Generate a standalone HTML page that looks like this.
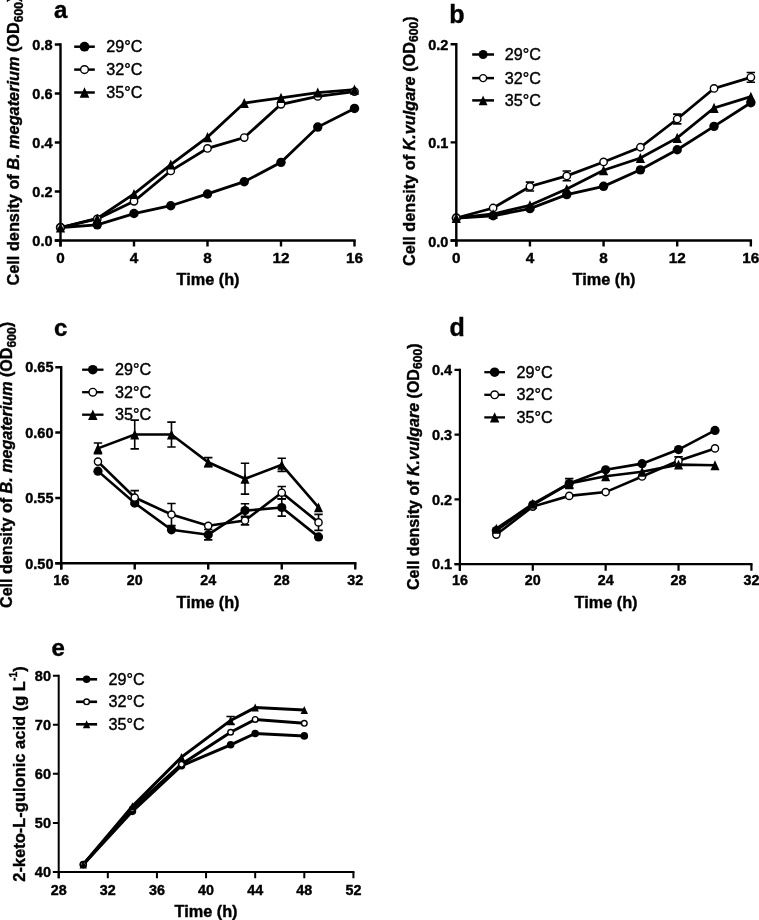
<!DOCTYPE html>
<html><head><meta charset="utf-8"><style>
html,body{margin:0;padding:0;background:#fff;width:759px;height:920px;overflow:hidden}
svg{display:block;will-change:transform}
text{font-family:"Liberation Sans", sans-serif;fill:#000;stroke:#000;stroke-width:0.4px}
</style></head><body>
<svg width="759" height="920" viewBox="0 0 759 920">
<rect width="759" height="920" fill="#fff"/>
<path d="M60.5 43.3V246.6M54.8 240.5H355.7" stroke="#000" stroke-width="2.4" fill="none"/>
<path d="M54.8 240.5H60.5M54.8 191.5H60.5M54.8 142.5H60.5M54.8 93.5H60.5M54.8 44.5H60.5M60.5 240.5V246.6M134 240.5V246.6M207.5 240.5V246.6M281 240.5V246.6M354.5 240.5V246.6" stroke="#000" stroke-width="2.4" fill="none"/>
<text x="52.5" y="245.7" font-size="14.5" font-weight="bold" font-style="normal" text-anchor="end" >0.0</text>
<text x="52.5" y="196.7" font-size="14.5" font-weight="bold" font-style="normal" text-anchor="end" >0.2</text>
<text x="52.5" y="147.7" font-size="14.5" font-weight="bold" font-style="normal" text-anchor="end" >0.4</text>
<text x="52.5" y="98.7" font-size="14.5" font-weight="bold" font-style="normal" text-anchor="end" >0.6</text>
<text x="52.5" y="49.7" font-size="14.5" font-weight="bold" font-style="normal" text-anchor="end" >0.8</text>
<text x="60.5" y="263.2" font-size="15.3" font-weight="bold" font-style="normal" text-anchor="middle" >0</text>
<text x="134" y="263.2" font-size="15.3" font-weight="bold" font-style="normal" text-anchor="middle" >4</text>
<text x="207.5" y="263.2" font-size="15.3" font-weight="bold" font-style="normal" text-anchor="middle" >8</text>
<text x="281" y="263.2" font-size="15.3" font-weight="bold" font-style="normal" text-anchor="middle" >12</text>
<text x="354.5" y="263.2" font-size="15.3" font-weight="bold" font-style="normal" text-anchor="middle" >16</text>
<text x="208" y="285" font-size="16.3" font-weight="bold" font-style="normal" text-anchor="middle" >Time (h)</text>
<text transform="translate(19.2 285.5) rotate(-90)" x="0" y="0" font-size="16.3" font-weight="bold">Cell density of <tspan font-style="italic">B. megaterium</tspan> (OD<tspan font-size="12.2" dy="3.6">600</tspan><tspan dy="-3.6">)</tspan></text>
<text x="54" y="18.3" font-size="24" font-weight="bold" font-style="normal" text-anchor="start" >a</text>
<path d="M60.5 227.51 L97.25 224.82 L134 213.55 L170.75 205.71 L207.5 193.95 L244.25 181.7 L281 162.34 L317.75 127.06 L354.5 108.44" stroke="#000" stroke-width="2.8" fill="none" stroke-linejoin="miter"/>
<path d="M60.5 227.51 L97.25 218.94 L134 201.3 L170.75 170.92 L207.5 148.38 L244.25 137.6 L281 104.28 L317.75 96.44 L354.5 91.54" stroke="#000" stroke-width="2.8" fill="none" stroke-linejoin="miter"/>
<path d="M60.5 227.51 L97.25 218.45 L134 193.95 L170.75 164.55 L207.5 137.11 L244.25 103.05 L281 97.91 L317.75 92.52 L354.5 89.58" stroke="#000" stroke-width="2.8" fill="none" stroke-linejoin="miter"/>
<circle cx="60.5" cy="227.51" r="4.7" fill="#000"/>
<circle cx="97.25" cy="224.82" r="4.7" fill="#000"/>
<circle cx="134" cy="213.55" r="4.7" fill="#000"/>
<circle cx="170.75" cy="205.71" r="4.7" fill="#000"/>
<circle cx="207.5" cy="193.95" r="4.7" fill="#000"/>
<circle cx="244.25" cy="181.7" r="4.7" fill="#000"/>
<circle cx="281" cy="162.34" r="4.7" fill="#000"/>
<circle cx="317.75" cy="127.06" r="4.7" fill="#000"/>
<circle cx="354.5" cy="108.44" r="4.7" fill="#000"/>
<circle cx="60.5" cy="227.51" r="3.7" fill="#fff" stroke="#000" stroke-width="1.4"/>
<circle cx="97.25" cy="218.94" r="3.7" fill="#fff" stroke="#000" stroke-width="1.4"/>
<circle cx="134" cy="201.3" r="3.7" fill="#fff" stroke="#000" stroke-width="1.4"/>
<circle cx="170.75" cy="170.92" r="3.7" fill="#fff" stroke="#000" stroke-width="1.4"/>
<circle cx="207.5" cy="148.38" r="3.7" fill="#fff" stroke="#000" stroke-width="1.4"/>
<circle cx="244.25" cy="137.6" r="3.7" fill="#fff" stroke="#000" stroke-width="1.4"/>
<circle cx="281" cy="104.28" r="3.7" fill="#fff" stroke="#000" stroke-width="1.4"/>
<circle cx="317.75" cy="96.44" r="3.7" fill="#fff" stroke="#000" stroke-width="1.4"/>
<circle cx="354.5" cy="91.54" r="3.7" fill="#fff" stroke="#000" stroke-width="1.4"/>
<path d="M60.5 222.45L65.12 232.57L55.88 232.57Z" fill="#000"/>
<path d="M97.25 213.39L101.87 223.51L92.63 223.51Z" fill="#000"/>
<path d="M134 188.89L138.62 199.01L129.38 199.01Z" fill="#000"/>
<path d="M170.75 159.49L175.37 169.61L166.13 169.61Z" fill="#000"/>
<path d="M207.5 132.05L212.12 142.17L202.88 142.17Z" fill="#000"/>
<path d="M244.25 97.99L248.87 108.11L239.63 108.11Z" fill="#000"/>
<path d="M281 92.85L285.62 102.97L276.38 102.97Z" fill="#000"/>
<path d="M317.75 87.46L322.37 97.58L313.13 97.58Z" fill="#000"/>
<path d="M354.5 84.52L359.12 94.64L349.88 94.64Z" fill="#000"/>
<path d="M74.2 46.7H94.8" stroke="#000" stroke-width="2.5"/>
<circle cx="84.5" cy="46.7" r="4.9" fill="#000"/>
<text x="106.3" y="52.1" font-size="16.2" font-weight="normal" font-style="normal" text-anchor="start" >29°C</text>
<path d="M74.2 69.6H94.8" stroke="#000" stroke-width="2.5"/>
<circle cx="84.5" cy="69.6" r="3.9" fill="#fff" stroke="#000" stroke-width="1.4"/>
<text x="106.3" y="75" font-size="16.2" font-weight="normal" font-style="normal" text-anchor="start" >32°C</text>
<path d="M74.2 92.5H94.8" stroke="#000" stroke-width="2.5"/>
<path d="M84.5 87.21L89.33 97.79L79.67 97.79Z" fill="#000"/>
<text x="106.3" y="97.9" font-size="16.2" font-weight="normal" font-style="normal" text-anchor="start" >35°C</text>
<path d="M456.3 43V246.6M450.6 240.5H752.06" stroke="#000" stroke-width="2.4" fill="none"/>
<path d="M450.6 240.5H456.3M450.6 142.35H456.3M450.6 44.2H456.3M456.3 240.5V246.6M529.94 240.5V246.6M603.58 240.5V246.6M677.22 240.5V246.6M750.86 240.5V246.6" stroke="#000" stroke-width="2.4" fill="none"/>
<text x="448.3" y="246.5" font-size="14.5" font-weight="bold" font-style="normal" text-anchor="end" >0.0</text>
<text x="448.3" y="148.35" font-size="14.5" font-weight="bold" font-style="normal" text-anchor="end" >0.1</text>
<text x="448.3" y="50.2" font-size="14.5" font-weight="bold" font-style="normal" text-anchor="end" >0.2</text>
<text x="456.3" y="263.2" font-size="15.3" font-weight="bold" font-style="normal" text-anchor="middle" >0</text>
<text x="529.94" y="263.2" font-size="15.3" font-weight="bold" font-style="normal" text-anchor="middle" >4</text>
<text x="603.58" y="263.2" font-size="15.3" font-weight="bold" font-style="normal" text-anchor="middle" >8</text>
<text x="677.22" y="263.2" font-size="15.3" font-weight="bold" font-style="normal" text-anchor="middle" >12</text>
<text x="750.86" y="263.2" font-size="15.3" font-weight="bold" font-style="normal" text-anchor="middle" >16</text>
<text x="604" y="285" font-size="16.3" font-weight="bold" font-style="normal" text-anchor="middle" >Time (h)</text>
<text transform="translate(414.5 266) rotate(-90)" x="0" y="0" font-size="16.25" font-weight="bold">Cell density of <tspan font-style="italic">K.vulgare</tspan> (OD<tspan font-size="12.2" dy="3.6">600</tspan><tspan dy="-3.6">)</tspan></text>
<text x="449.2" y="23.3" font-size="25" font-weight="bold" font-style="normal" text-anchor="start" >b</text>
<path d="M456.3 218.02 L493.12 215.77 L529.94 208.6 L566.76 194.66 L603.58 186.32 L640.4 169.83 L677.22 149.71 L714.04 126.35 L750.86 102.8" stroke="#000" stroke-width="2.8" fill="none" stroke-linejoin="miter"/>
<path d="M456.3 218.02 L493.12 208.01 L529.94 186.52 L566.76 175.92 L603.58 161.98 L640.4 147.26 L677.22 118.99 L714.04 88.47 L750.86 77.37" stroke="#000" stroke-width="2.8" fill="none" stroke-linejoin="miter"/>
<path d="M456.3 218.02 L493.12 214 L529.94 205.26 L566.76 188.97 L603.58 170.22 L640.4 158.05 L677.22 137.93 L714.04 107.9 L750.86 96.71" stroke="#000" stroke-width="2.8" fill="none" stroke-linejoin="miter"/>
<path d="M529.94 182.1V190.93M525.74 182.1H534.14M525.74 190.93H534.14" stroke="#000" stroke-width="1.6" fill="none"/>
<path d="M566.76 171.01V180.82M562.56 171.01H570.96M562.56 180.82H570.96" stroke="#000" stroke-width="1.6" fill="none"/>
<path d="M677.22 114.08V123.9M673.02 114.08H681.42M673.02 123.9H681.42" stroke="#000" stroke-width="1.6" fill="none"/>
<path d="M750.86 72.57V82.18M746.66 72.57H755.06M746.66 82.18H755.06" stroke="#000" stroke-width="1.6" fill="none"/>
<circle cx="456.3" cy="218.02" r="4.7" fill="#000"/>
<circle cx="493.12" cy="215.77" r="4.7" fill="#000"/>
<circle cx="529.94" cy="208.6" r="4.7" fill="#000"/>
<circle cx="566.76" cy="194.66" r="4.7" fill="#000"/>
<circle cx="603.58" cy="186.32" r="4.7" fill="#000"/>
<circle cx="640.4" cy="169.83" r="4.7" fill="#000"/>
<circle cx="677.22" cy="149.71" r="4.7" fill="#000"/>
<circle cx="714.04" cy="126.35" r="4.7" fill="#000"/>
<circle cx="750.86" cy="102.8" r="4.7" fill="#000"/>
<circle cx="456.3" cy="218.02" r="3.7" fill="#fff" stroke="#000" stroke-width="1.4"/>
<circle cx="493.12" cy="208.01" r="3.7" fill="#fff" stroke="#000" stroke-width="1.4"/>
<circle cx="529.94" cy="186.52" r="3.7" fill="#fff" stroke="#000" stroke-width="1.4"/>
<circle cx="566.76" cy="175.92" r="3.7" fill="#fff" stroke="#000" stroke-width="1.4"/>
<circle cx="603.58" cy="161.98" r="3.7" fill="#fff" stroke="#000" stroke-width="1.4"/>
<circle cx="640.4" cy="147.26" r="3.7" fill="#fff" stroke="#000" stroke-width="1.4"/>
<circle cx="677.22" cy="118.99" r="3.7" fill="#fff" stroke="#000" stroke-width="1.4"/>
<circle cx="714.04" cy="88.47" r="3.7" fill="#fff" stroke="#000" stroke-width="1.4"/>
<circle cx="750.86" cy="77.37" r="3.7" fill="#fff" stroke="#000" stroke-width="1.4"/>
<path d="M456.3 212.96L460.92 223.08L451.68 223.08Z" fill="#000"/>
<path d="M493.12 208.94L497.74 219.06L488.5 219.06Z" fill="#000"/>
<path d="M529.94 200.2L534.56 210.32L525.32 210.32Z" fill="#000"/>
<path d="M566.76 183.91L571.38 194.03L562.14 194.03Z" fill="#000"/>
<path d="M603.58 165.16L608.2 175.28L598.96 175.28Z" fill="#000"/>
<path d="M640.4 152.99L645.02 163.11L635.78 163.11Z" fill="#000"/>
<path d="M677.22 132.87L681.84 142.99L672.6 142.99Z" fill="#000"/>
<path d="M714.04 102.84L718.66 112.96L709.42 112.96Z" fill="#000"/>
<path d="M750.86 91.65L755.48 101.77L746.24 101.77Z" fill="#000"/>
<path d="M472.2 54.5H494" stroke="#000" stroke-width="2.5"/>
<circle cx="483.1" cy="54.5" r="4.5" fill="#000"/>
<text x="504.8" y="59.9" font-size="16.2" font-weight="normal" font-style="normal" text-anchor="start" >29°C</text>
<path d="M472.2 78.1H494" stroke="#000" stroke-width="2.5"/>
<circle cx="483.1" cy="78.1" r="3.5" fill="#fff" stroke="#000" stroke-width="1.4"/>
<text x="504.8" y="83.5" font-size="16.2" font-weight="normal" font-style="normal" text-anchor="start" >32°C</text>
<path d="M472.2 100.4H494" stroke="#000" stroke-width="2.5"/>
<path d="M483.1 95.57L487.51 105.23L478.69 105.23Z" fill="#000"/>
<text x="504.8" y="105.8" font-size="16.2" font-weight="normal" font-style="normal" text-anchor="start" >35°C</text>
<path d="M61.2 366V569.4M55.3 563.3H356.48" stroke="#000" stroke-width="2.4" fill="none"/>
<path d="M55.3 563.3H61.2M55.3 497.93H61.2M55.3 432.57H61.2M55.3 367.2H61.2M61.2 563.3V569.4M134.72 563.3V569.4M208.24 563.3V569.4M281.76 563.3V569.4M355.28 563.3V569.4" stroke="#000" stroke-width="2.4" fill="none"/>
<text x="53.5" y="568.5" font-size="14.5" font-weight="bold" font-style="normal" text-anchor="end" >0.50</text>
<text x="53.5" y="503.13" font-size="14.5" font-weight="bold" font-style="normal" text-anchor="end" >0.55</text>
<text x="53.5" y="437.77" font-size="14.5" font-weight="bold" font-style="normal" text-anchor="end" >0.60</text>
<text x="53.5" y="372.4" font-size="14.5" font-weight="bold" font-style="normal" text-anchor="end" >0.65</text>
<text x="61.2" y="584.9" font-size="14.3" font-weight="bold" font-style="normal" text-anchor="middle" >16</text>
<text x="134.72" y="584.9" font-size="14.3" font-weight="bold" font-style="normal" text-anchor="middle" >20</text>
<text x="208.24" y="584.9" font-size="14.3" font-weight="bold" font-style="normal" text-anchor="middle" >24</text>
<text x="281.76" y="584.9" font-size="14.3" font-weight="bold" font-style="normal" text-anchor="middle" >28</text>
<text x="355.28" y="584.9" font-size="14.3" font-weight="bold" font-style="normal" text-anchor="middle" >32</text>
<text x="208" y="607.5" font-size="16.3" font-weight="bold" font-style="normal" text-anchor="middle" >Time (h)</text>
<text transform="translate(12.2 608) rotate(-90)" x="0" y="0" font-size="16.12" font-weight="bold">Cell density of <tspan font-style="italic">B. megaterium</tspan> (OD<tspan font-size="12.2" dy="3.6">600</tspan><tspan dy="-3.6">)</tspan></text>
<text x="54" y="335.7" font-size="24" font-weight="bold" font-style="normal" text-anchor="start" >c</text>
<path d="M97.96 471.14 L134.72 503.03 L171.48 529.83 L208.24 534.67 L245 510.62 L281.76 507.48 L318.52 536.89" stroke="#000" stroke-width="2.6" fill="none" stroke-linejoin="miter"/>
<path d="M97.96 461.59 L134.72 497.54 L171.48 514.54 L208.24 525.78 L245 520.55 L281.76 492.71 L318.52 522.38" stroke="#000" stroke-width="2.6" fill="none" stroke-linejoin="miter"/>
<path d="M97.96 448.39 L134.72 434.53 L171.48 434.53 L208.24 462.25 L245 478.72 L281.76 464.86 L318.52 507.35" stroke="#000" stroke-width="2.6" fill="none" stroke-linejoin="miter"/>
<path d="M208.24 529.44V539.9M204.04 529.44H212.44M204.04 539.9H212.44" stroke="#000" stroke-width="1.6" fill="none"/>
<path d="M245 503.82V517.41M240.8 503.82H249.2M240.8 517.41H249.2" stroke="#000" stroke-width="1.6" fill="none"/>
<path d="M281.76 498.85V516.11M277.56 498.85H285.96M277.56 516.11H285.96" stroke="#000" stroke-width="1.6" fill="none"/>
<path d="M134.72 490.61V504.47M130.52 490.61H138.92M130.52 504.47H138.92" stroke="#000" stroke-width="1.6" fill="none"/>
<path d="M171.48 503.43V525.65M167.28 503.43H175.68M167.28 525.65H175.68" stroke="#000" stroke-width="1.6" fill="none"/>
<path d="M245 516.24V524.87M240.8 516.24H249.2M240.8 524.87H249.2" stroke="#000" stroke-width="1.6" fill="none"/>
<path d="M281.76 486.56V498.85M277.56 486.56H285.96M277.56 498.85H285.96" stroke="#000" stroke-width="1.6" fill="none"/>
<path d="M318.52 514.41V530.36M314.32 514.41H322.72M314.32 530.36H322.72" stroke="#000" stroke-width="1.6" fill="none"/>
<path d="M97.96 443.03V453.75M93.76 443.03H102.16M93.76 453.75H102.16" stroke="#000" stroke-width="1.6" fill="none"/>
<path d="M134.72 420.15V448.91M130.52 420.15H138.92M130.52 448.91H138.92" stroke="#000" stroke-width="1.6" fill="none"/>
<path d="M171.48 422.11V446.95M167.28 422.11H175.68M167.28 446.95H175.68" stroke="#000" stroke-width="1.6" fill="none"/>
<path d="M208.24 457.67V466.82M204.04 457.67H212.44M204.04 466.82H212.44" stroke="#000" stroke-width="1.6" fill="none"/>
<path d="M245 463.29V494.14M240.8 463.29H249.2M240.8 494.14H249.2" stroke="#000" stroke-width="1.6" fill="none"/>
<path d="M281.76 458.32V471.4M277.56 458.32H285.96M277.56 471.4H285.96" stroke="#000" stroke-width="1.6" fill="none"/>
<circle cx="97.96" cy="471.14" r="4.6" fill="#000"/>
<circle cx="134.72" cy="503.03" r="4.6" fill="#000"/>
<circle cx="171.48" cy="529.83" r="4.6" fill="#000"/>
<circle cx="208.24" cy="534.67" r="4.6" fill="#000"/>
<circle cx="245" cy="510.62" r="4.6" fill="#000"/>
<circle cx="281.76" cy="507.48" r="4.6" fill="#000"/>
<circle cx="318.52" cy="536.89" r="4.6" fill="#000"/>
<circle cx="97.96" cy="461.59" r="3.6" fill="#fff" stroke="#000" stroke-width="1.4"/>
<circle cx="134.72" cy="497.54" r="3.6" fill="#fff" stroke="#000" stroke-width="1.4"/>
<circle cx="171.48" cy="514.54" r="3.6" fill="#fff" stroke="#000" stroke-width="1.4"/>
<circle cx="208.24" cy="525.78" r="3.6" fill="#fff" stroke="#000" stroke-width="1.4"/>
<circle cx="245" cy="520.55" r="3.6" fill="#fff" stroke="#000" stroke-width="1.4"/>
<circle cx="281.76" cy="492.71" r="3.6" fill="#fff" stroke="#000" stroke-width="1.4"/>
<circle cx="318.52" cy="522.38" r="3.6" fill="#fff" stroke="#000" stroke-width="1.4"/>
<path d="M97.96 443.44L102.48 453.33L93.45 453.33Z" fill="#000"/>
<path d="M134.72 429.59L139.23 439.48L130.21 439.48Z" fill="#000"/>
<path d="M171.48 429.59L176 439.48L166.97 439.48Z" fill="#000"/>
<path d="M208.24 457.3L212.75 467.19L203.73 467.19Z" fill="#000"/>
<path d="M245 473.77L249.51 483.66L240.49 483.66Z" fill="#000"/>
<path d="M281.76 459.92L286.27 469.81L277.25 469.81Z" fill="#000"/>
<path d="M318.52 502.4L323.03 512.29L314 512.29Z" fill="#000"/>
<path d="M82.1 369.7H103.5" stroke="#000" stroke-width="2.3"/>
<circle cx="92.8" cy="369.7" r="4.8" fill="#000"/>
<text x="115" y="375.1" font-size="16.2" font-weight="normal" font-style="normal" text-anchor="start" >29°C</text>
<path d="M82.1 392.2H103.5" stroke="#000" stroke-width="2.3"/>
<circle cx="92.8" cy="392.2" r="3.8" fill="#fff" stroke="#000" stroke-width="1.4"/>
<text x="115" y="397.6" font-size="16.2" font-weight="normal" font-style="normal" text-anchor="start" >32°C</text>
<path d="M82.1 414.7H103.5" stroke="#000" stroke-width="2.3"/>
<path d="M92.8 409.52L97.52 419.88L88.08 419.88Z" fill="#000"/>
<text x="115" y="420.1" font-size="16.2" font-weight="normal" font-style="normal" text-anchor="start" >35°C</text>
<path d="M459.9 368.7V570.8M454.5 564.2H752.52" stroke="#000" stroke-width="2.2" fill="none"/>
<path d="M454.5 564.2H459.9M454.5 499.4H459.9M454.5 434.6H459.9M454.5 369.8H459.9M459.9 564.2V570.8M532.78 564.2V570.8M605.66 564.2V570.8M678.54 564.2V570.8M751.42 564.2V570.8" stroke="#000" stroke-width="2.2" fill="none"/>
<text x="452.2" y="569.4" font-size="14.5" font-weight="bold" font-style="normal" text-anchor="end" >0.1</text>
<text x="452.2" y="504.6" font-size="14.5" font-weight="bold" font-style="normal" text-anchor="end" >0.2</text>
<text x="452.2" y="439.8" font-size="14.5" font-weight="bold" font-style="normal" text-anchor="end" >0.3</text>
<text x="452.2" y="375" font-size="14.5" font-weight="bold" font-style="normal" text-anchor="end" >0.4</text>
<text x="459.9" y="584.9" font-size="14.3" font-weight="bold" font-style="normal" text-anchor="middle" >16</text>
<text x="532.78" y="584.9" font-size="14.3" font-weight="bold" font-style="normal" text-anchor="middle" >20</text>
<text x="605.66" y="584.9" font-size="14.3" font-weight="bold" font-style="normal" text-anchor="middle" >24</text>
<text x="678.54" y="584.9" font-size="14.3" font-weight="bold" font-style="normal" text-anchor="middle" >28</text>
<text x="751.42" y="584.9" font-size="14.3" font-weight="bold" font-style="normal" text-anchor="middle" >32</text>
<text x="606" y="607.5" font-size="16.3" font-weight="bold" font-style="normal" text-anchor="middle" >Time (h)</text>
<text transform="translate(418.6 590) rotate(-90)" x="0" y="0" font-size="16.05" font-weight="bold">Cell density of <tspan font-style="italic">K.vulgare</tspan> (OD<tspan font-size="12.2" dy="3.6">600</tspan><tspan dy="-3.6">)</tspan></text>
<text x="449.5" y="335.7" font-size="25" font-weight="bold" font-style="normal" text-anchor="start" >d</text>
<path d="M496.34 530.5 L532.78 504.78 L569.22 483.52 L605.66 469.79 L642.1 463.63 L678.54 449.57 L714.98 430.39" stroke="#000" stroke-width="2.6" fill="none" stroke-linejoin="miter"/>
<path d="M496.34 534.59 L532.78 506.59 L569.22 495.9 L605.66 492.08 L642.1 476.53 L678.54 460.71 L714.98 448.4" stroke="#000" stroke-width="2.6" fill="none" stroke-linejoin="miter"/>
<path d="M496.34 528.69 L532.78 503.81 L569.22 483.52 L605.66 476.2 L642.1 471.8 L678.54 464.6 L714.98 465.32" stroke="#000" stroke-width="2.6" fill="none" stroke-linejoin="miter"/>
<path d="M678.54 456.83V464.6M674.34 456.83H682.74M674.34 464.6H682.74" stroke="#000" stroke-width="1.6" fill="none"/>
<path d="M569.22 478.66V488.38M565.02 478.66H573.42M565.02 488.38H573.42" stroke="#000" stroke-width="1.6" fill="none"/>
<circle cx="496.34" cy="530.5" r="4.6" fill="#000"/>
<circle cx="532.78" cy="504.78" r="4.6" fill="#000"/>
<circle cx="569.22" cy="483.52" r="4.6" fill="#000"/>
<circle cx="605.66" cy="469.79" r="4.6" fill="#000"/>
<circle cx="642.1" cy="463.63" r="4.6" fill="#000"/>
<circle cx="678.54" cy="449.57" r="4.6" fill="#000"/>
<circle cx="714.98" cy="430.39" r="4.6" fill="#000"/>
<circle cx="496.34" cy="534.59" r="3.6" fill="#fff" stroke="#000" stroke-width="1.4"/>
<circle cx="532.78" cy="506.59" r="3.6" fill="#fff" stroke="#000" stroke-width="1.4"/>
<circle cx="569.22" cy="495.9" r="3.6" fill="#fff" stroke="#000" stroke-width="1.4"/>
<circle cx="605.66" cy="492.08" r="3.6" fill="#fff" stroke="#000" stroke-width="1.4"/>
<circle cx="642.1" cy="476.53" r="3.6" fill="#fff" stroke="#000" stroke-width="1.4"/>
<circle cx="678.54" cy="460.71" r="3.6" fill="#fff" stroke="#000" stroke-width="1.4"/>
<circle cx="714.98" cy="448.4" r="3.6" fill="#fff" stroke="#000" stroke-width="1.4"/>
<path d="M496.34 523.74L500.85 533.63L491.82 533.63Z" fill="#000"/>
<path d="M532.78 498.86L537.29 508.75L528.26 508.75Z" fill="#000"/>
<path d="M569.22 478.58L573.74 488.47L564.71 488.47Z" fill="#000"/>
<path d="M605.66 471.26L610.17 481.15L601.14 481.15Z" fill="#000"/>
<path d="M642.1 466.85L646.61 476.74L637.58 476.74Z" fill="#000"/>
<path d="M678.54 459.66L683.05 469.55L674.02 469.55Z" fill="#000"/>
<path d="M714.98 460.37L719.5 470.26L710.47 470.26Z" fill="#000"/>
<path d="M484.3 372.2H505" stroke="#000" stroke-width="2.3"/>
<circle cx="494.65" cy="372.2" r="4.8" fill="#000"/>
<text x="516.5" y="377.6" font-size="16.2" font-weight="normal" font-style="normal" text-anchor="start" >29°C</text>
<path d="M484.3 394.8H505" stroke="#000" stroke-width="2.3"/>
<circle cx="494.65" cy="394.8" r="3.8" fill="#fff" stroke="#000" stroke-width="1.4"/>
<text x="516.5" y="400.2" font-size="16.2" font-weight="normal" font-style="normal" text-anchor="start" >32°C</text>
<path d="M484.3 417.4H505" stroke="#000" stroke-width="2.3"/>
<path d="M494.65 412.22L499.38 422.57L489.92 422.57Z" fill="#000"/>
<text x="516.5" y="422.8" font-size="16.2" font-weight="normal" font-style="normal" text-anchor="start" >35°C</text>
<path d="M58.7 674.7V878.2M52.9 872H354.42" stroke="#000" stroke-width="2.0" fill="none"/>
<path d="M52.9 872H58.7M52.9 822.92H58.7M52.9 773.85H58.7M52.9 724.77H58.7M52.9 675.7H58.7M58.7 872V878.2M107.82 872V878.2M156.94 872V878.2M206.06 872V878.2M255.18 872V878.2M304.3 872V878.2M353.42 872V878.2" stroke="#000" stroke-width="2.0" fill="none"/>
<text x="51" y="877.2" font-size="14.5" font-weight="bold" font-style="normal" text-anchor="end" >40</text>
<text x="51" y="828.12" font-size="14.5" font-weight="bold" font-style="normal" text-anchor="end" >50</text>
<text x="51" y="779.05" font-size="14.5" font-weight="bold" font-style="normal" text-anchor="end" >60</text>
<text x="51" y="729.98" font-size="14.5" font-weight="bold" font-style="normal" text-anchor="end" >70</text>
<text x="51" y="680.9" font-size="14.5" font-weight="bold" font-style="normal" text-anchor="end" >80</text>
<text x="58.7" y="894.8" font-size="14.3" font-weight="bold" font-style="normal" text-anchor="middle" >28</text>
<text x="107.82" y="894.8" font-size="14.3" font-weight="bold" font-style="normal" text-anchor="middle" >32</text>
<text x="156.94" y="894.8" font-size="14.3" font-weight="bold" font-style="normal" text-anchor="middle" >36</text>
<text x="206.06" y="894.8" font-size="14.3" font-weight="bold" font-style="normal" text-anchor="middle" >40</text>
<text x="255.18" y="894.8" font-size="14.3" font-weight="bold" font-style="normal" text-anchor="middle" >44</text>
<text x="304.3" y="894.8" font-size="14.3" font-weight="bold" font-style="normal" text-anchor="middle" >48</text>
<text x="353.42" y="894.8" font-size="14.3" font-weight="bold" font-style="normal" text-anchor="middle" >52</text>
<text x="206" y="917" font-size="16.3" font-weight="bold" font-style="normal" text-anchor="middle" >Time (h)</text>
<text transform="translate(24.7 881.8) rotate(-90)" x="0" y="0" font-size="16.5" font-weight="bold">2-keto-L-gulonic acid (g L<tspan font-size="10.4" dy="-7.6">-1</tspan><tspan dy="7.6">)</tspan></text>
<text x="51.5" y="655.8" font-size="24" font-weight="bold" font-style="normal" text-anchor="start" >e</text>
<path d="M83.26 864.59 L132.38 811.34 L181.5 765.75 L230.62 744.8 L255.18 733.46 L304.3 735.92" stroke="#000" stroke-width="3.0" fill="none" stroke-linejoin="miter"/>
<path d="M83.26 864.59 L132.38 808.64 L181.5 764.28 L230.62 732.23 L255.18 719.43 L304.3 723.35" stroke="#000" stroke-width="3.0" fill="none" stroke-linejoin="miter"/>
<path d="M83.26 864.59 L132.38 806.19 L181.5 757.12 L230.62 720.41 L255.18 707.6 L304.3 710.05" stroke="#000" stroke-width="3.0" fill="none" stroke-linejoin="miter"/>
<path d="M230.62 716.48V724.33M226.42 716.48H234.82M226.42 724.33H234.82" stroke="#000" stroke-width="1.6" fill="none"/>
<circle cx="83.26" cy="864.59" r="3.8" fill="#000"/>
<circle cx="132.38" cy="811.34" r="3.8" fill="#000"/>
<circle cx="181.5" cy="765.75" r="3.8" fill="#000"/>
<circle cx="230.62" cy="744.8" r="3.8" fill="#000"/>
<circle cx="255.18" cy="733.46" r="3.8" fill="#000"/>
<circle cx="304.3" cy="735.92" r="3.8" fill="#000"/>
<circle cx="83.26" cy="864.59" r="2.8" fill="#fff" stroke="#000" stroke-width="1.4"/>
<circle cx="132.38" cy="808.64" r="2.8" fill="#fff" stroke="#000" stroke-width="1.4"/>
<circle cx="181.5" cy="764.28" r="2.8" fill="#fff" stroke="#000" stroke-width="1.4"/>
<circle cx="230.62" cy="732.23" r="2.8" fill="#fff" stroke="#000" stroke-width="1.4"/>
<circle cx="255.18" cy="719.43" r="2.8" fill="#fff" stroke="#000" stroke-width="1.4"/>
<circle cx="304.3" cy="723.35" r="2.8" fill="#fff" stroke="#000" stroke-width="1.4"/>
<path d="M83.26 860.56L86.94 868.61L79.59 868.61Z" fill="#000"/>
<path d="M132.38 802.17L136.06 810.22L128.7 810.22Z" fill="#000"/>
<path d="M181.5 753.09L185.18 761.14L177.82 761.14Z" fill="#000"/>
<path d="M230.62 716.38L234.3 724.43L226.94 724.43Z" fill="#000"/>
<path d="M255.18 703.57L258.86 711.62L251.5 711.62Z" fill="#000"/>
<path d="M304.3 706.03L307.98 714.08L300.62 714.08Z" fill="#000"/>
<path d="M76.1 679.3H97.1" stroke="#000" stroke-width="2.6"/>
<circle cx="86.6" cy="679.3" r="3.8" fill="#000"/>
<text x="108.5" y="684.7" font-size="16.2" font-weight="normal" font-style="normal" text-anchor="start" >29°C</text>
<path d="M76.1 701.8H97.1" stroke="#000" stroke-width="2.6"/>
<circle cx="86.6" cy="701.8" r="2.8" fill="#fff" stroke="#000" stroke-width="1.4"/>
<text x="108.5" y="707.2" font-size="16.2" font-weight="normal" font-style="normal" text-anchor="start" >32°C</text>
<path d="M76.1 724.3H97.1" stroke="#000" stroke-width="2.6"/>
<path d="M86.6 720.27L90.27 728.32L82.92 728.32Z" fill="#000"/>
<text x="108.5" y="729.7" font-size="16.2" font-weight="normal" font-style="normal" text-anchor="start" >35°C</text>
</svg></body></html>
